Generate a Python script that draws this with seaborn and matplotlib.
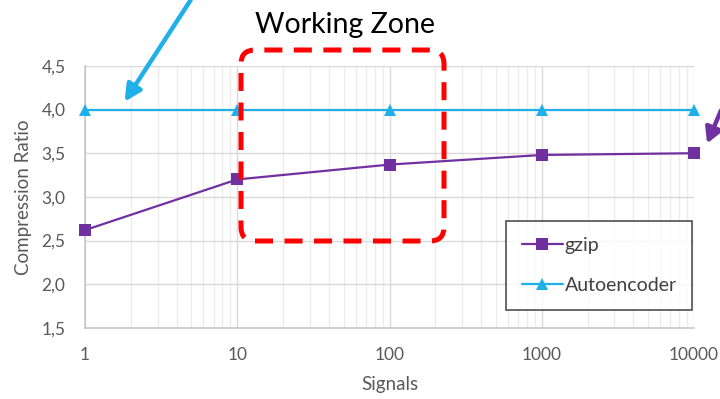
import matplotlib
matplotlib.use("Agg")
import matplotlib.pyplot as plt
from matplotlib.patches import FancyBboxPatch, FancyArrowPatch
from matplotlib.transforms import IdentityTransform
from matplotlib.ticker import FixedLocator, FuncFormatter, LogLocator, NullFormatter
import numpy as np
import pandas as pd
import seaborn as sns

# Data
signals = [1, 10, 100, 1000, 10000]
gzip_ratio = [2.62, 3.20, 3.37, 3.48, 3.50]
autoencoder_ratio = [4.0, 4.0, 4.0, 4.0, 4.0]
series_names = ["gzip", "Autoencoder"]
y_ticks = [1.5, 2.0, 2.5, 3.0, 3.5, 4.0, 4.5]
x_ticks = [1, 10, 100, 1000, 10000]

df = pd.DataFrame({
    "Signals": signals * 2,
    "Compression Ratio": gzip_ratio + autoencoder_ratio,
    "series": [series_names[0]] * len(signals) + [series_names[1]] * len(signals),
})

sns.set_style("white")
plt.rcParams["font.family"] = ["Lato", "DejaVu Sans"]

PURPLE = "#7030a0"
BLUE = "#1fb0ea"
GREY_TXT = "#595959"

fig = plt.figure(figsize=(7.2, 3.99), dpi=100)
ax = fig.add_axes([0.118, 0.178, 0.846, 0.657])

sns.lineplot(
    data=df, x="Signals", y="Compression Ratio", hue="series", style="series",
    palette={"gzip": PURPLE, "Autoencoder": BLUE},
    markers={"gzip": "s", "Autoencoder": "^"}, dashes=False,
    markersize=9, markeredgewidth=0, linewidth=1.6, ax=ax, zorder=3, clip_on=False,
)

ax.set_xscale("log")
ax.set_xlim(1, 10000)
ax.set_ylim(1.5, 4.5)
ax.xaxis.set_major_locator(FixedLocator(x_ticks))
ax.xaxis.set_major_formatter(FuncFormatter(lambda v, p: f"{int(round(v))}"))
ax.xaxis.set_minor_locator(LogLocator(base=10, subs=np.arange(2, 10)))
ax.xaxis.set_minor_formatter(NullFormatter())
ax.yaxis.set_major_locator(FixedLocator(y_ticks))
ax.yaxis.set_major_formatter(FuncFormatter(lambda v, p: f"{v:.1f}".replace(".", ",")))

ax.grid(True, which="major", color="#d9d9d9", linewidth=1.0)
ax.grid(True, which="minor", axis="x", color="#ececec", linewidth=1.0)
ax.set_axisbelow(True)
for side in ["top", "right"]:
    ax.spines[side].set_visible(False)
for side in ["left", "bottom"]:
    ax.spines[side].set_color("#c8c8c8")
    ax.spines[side].set_linewidth(1.2)

ax.tick_params(axis="both", which="both", length=0, labelsize=12.5, colors=GREY_TXT)
ax.tick_params(axis="x", pad=14)
ax.tick_params(axis="y", pad=14)
ax.set_xlabel("Signals", fontsize=13.5, color=GREY_TXT, labelpad=9)
ax.set_ylabel("Compression Ratio", fontsize=13.5, color=GREY_TXT, labelpad=7)

leg = ax.legend(
    loc="lower right", bbox_to_anchor=(0.997, 0.07), frameon=True, fancybox=False,
    fontsize=14, handlelength=2.1, handletextpad=0.1, labelspacing=1.2,
    borderpad=0.8, borderaxespad=0,
)
leg.get_frame().set_edgecolor("#222222")
leg.get_frame().set_linewidth(1.2)
for t in leg.get_texts():
    t.set_color("#404040")

# Annotation overlays in pixel coordinates (origin bottom-left)
H = 399
px = IdentityTransform()

zone = FancyBboxPatch(
    (241, H - 241), 444 - 241, 241 - 50,
    boxstyle="round,pad=0,rounding_size=14",
    fill=False, edgecolor="#ff0000", linewidth=3.6, linestyle=(0, (3.6, 2.3)),
    transform=px, zorder=5, clip_on=False,
)
fig.patches.append(zone)
fig.text(345 / 720, 1 - 25 / H, "Working Zone", ha="center", va="center",
         fontsize=20.5, color="black")

blue_arrow = FancyArrowPatch(
    (192, H + 2), (123, H - 104), arrowstyle="-|>,head_length=10,head_width=5",
    color=BLUE, linewidth=3.2, transform=px, zorder=6, clip_on=False,
)
fig.patches.append(blue_arrow)
purple_arrow = FancyArrowPatch(
    (722, H - 108), (706, H - 146), arrowstyle="-|>,head_length=9,head_width=5",
    color=PURPLE, linewidth=3.2, transform=px, zorder=6, clip_on=False,
)
fig.patches.append(purple_arrow)

fig.savefig("out.png", dpi=100)
